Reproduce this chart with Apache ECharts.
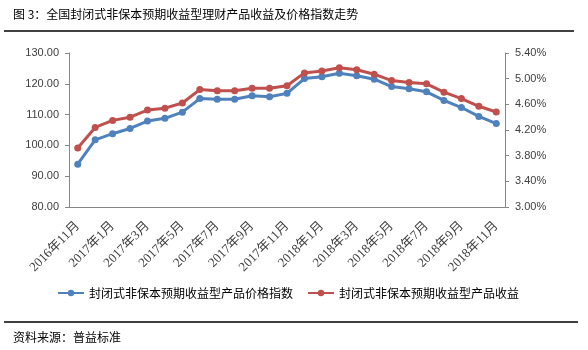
<!DOCTYPE html>
<html>
<head>
<meta charset="utf-8">
<script src="https://cdn.jsdelivr.net/npm/echarts@6/dist/echarts.min.js"></script>
<style>
html,body{margin:0;padding:0;background:#fff;}
#chart{width:588px;height:350px;}
</style>
</head>
<body>
<div id="chart"></div>
<script>
var categories = ['2016年11月','2016年12月','2017年1月','2017年2月','2017年3月','2017年4月','2017年5月','2017年6月','2017年7月','2017年8月','2017年9月','2017年10月','2017年11月','2017年12月','2018年1月','2018年2月','2018年3月','2018年4月','2018年5月','2018年6月','2018年7月','2018年8月','2018年9月','2018年10月','2018年11月'];
var priceIndex = [93.9,101.8,103.8,105.5,107.9,108.8,110.8,115.2,115.0,115.0,116.1,115.8,116.9,121.7,122.3,123.4,122.6,121.5,119.1,118.4,117.4,114.6,112.3,109.4,107.1];
var yieldRate = [3.92,4.24,4.35,4.40,4.51,4.54,4.62,4.83,4.81,4.81,4.85,4.85,4.89,5.09,5.12,5.17,5.14,5.07,4.97,4.94,4.92,4.79,4.69,4.57,4.48];
var seriesNames = ['封闭式非保本预期收益型产品价格指数','封闭式非保本预期收益型产品收益'];
var titleText = '图 3：全国封闭式非保本预期收益型理财产品收益及价格指数走势';
var sourceText = '资料来源：普益标准';

var cjk = '"Noto Sans CJK SC", sans-serif';
var axisColor = '#868686';
var labelColor = '#404040';
var chart = echarts.init(document.getElementById('chart'), null, {renderer:'canvas'});
chart.setOption({
  animation:false,
  backgroundColor:'#fff',
  title:{text:titleText,left:13,top:8,padding:0,textStyle:{fontSize:12,fontWeight:'normal',color:'#000',fontFamily:cjk}},
  graphic:[
    {type:'line',shape:{x1:4,y1:31,x2:574,y2:31},style:{stroke:'#000',lineWidth:1.5}},
    {type:'line',shape:{x1:4,y1:322,x2:578,y2:322},style:{stroke:'#000',lineWidth:1.5}},
    {type:'text',left:13,top:331,style:{text:sourceText,font:'12px "Noto Sans CJK SC"',fill:'#000'}}
  ],
  legend:{
    left:52,top:282,itemWidth:26,itemHeight:8,itemGap:14,
    textStyle:{fontSize:12,color:'#000',fontFamily:cjk},
    data:seriesNames
  },
  grid:{left:69,right:83,top:53,bottom:143},
  xAxis:{
    type:'category',data:categories,boundaryGap:true,
    axisLine:{lineStyle:{color:axisColor}},
    axisTick:{interval:1,length:5,lineStyle:{color:axisColor}},
    axisLabel:{interval:1,rotate:45,fontSize:13,color:labelColor,margin:17,fontFamily:'"Liberation Serif", "Noto Sans CJK SC", serif'}
  },
  yAxis:[
    {type:'value',min:80,max:130,interval:10,position:'left',
     axisLine:{show:true,lineStyle:{color:axisColor}},
     axisTick:{show:true,length:4,lineStyle:{color:axisColor}},
     splitLine:{show:false},
     axisLabel:{formatter:function(v){return v.toFixed(2);},fontSize:11,color:labelColor,margin:10,fontFamily:'"Liberation Sans", sans-serif'}},
    {type:'value',min:3.0,max:5.4,interval:0.4,position:'right',
     axisLine:{show:true,lineStyle:{color:axisColor}},
     axisTick:{show:true,length:4,lineStyle:{color:axisColor}},
     splitLine:{show:false},
     axisLabel:{formatter:function(v){return v.toFixed(2)+'%';},fontSize:11,color:labelColor,margin:10,fontFamily:'"Liberation Sans", sans-serif'}}
  ],
  series:[
    {name:seriesNames[0],type:'line',yAxisIndex:0,data:priceIndex,symbol:'circle',symbolSize:7,
     itemStyle:{color:'#4F81BD'},lineStyle:{width:3,color:'#4F81BD'}},
    {name:seriesNames[1],type:'line',yAxisIndex:1,data:yieldRate,symbol:'circle',symbolSize:7,
     itemStyle:{color:'#C0504D'},lineStyle:{width:3,color:'#C0504D'}}
  ]
});
</script>
</body>
</html>
